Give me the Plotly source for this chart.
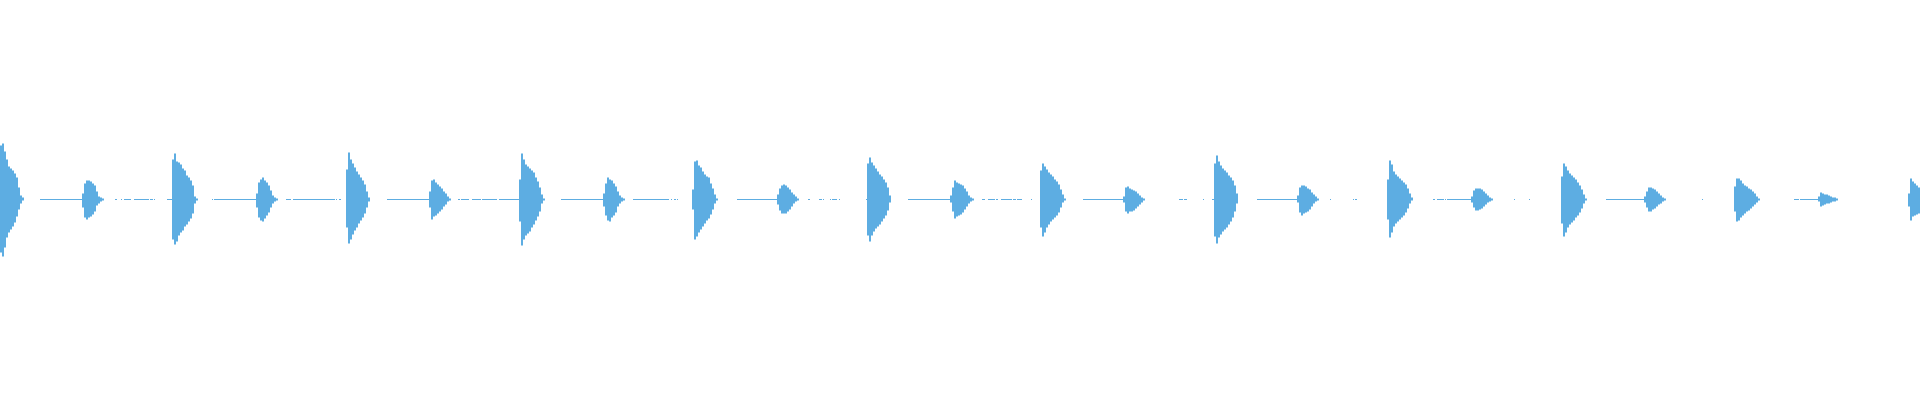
import plotly.graph_objects as go

# Waveform peak data (x = peak bin index, amplitude in peak units; full scale ±200)
hit_starts = [0, 82, 172, 256, 346, 429, 519, 603, 692, 777, 867, 950,
              1040, 1123, 1214, 1297, 1387, 1471, 1561, 1644, 1734, 1818, 1908]

hit_top = [
    [54, 56, 48, 40, 33, 31, 29, 26, 22, 12, 4, 2],
    [6, 16, 19, 19, 18, 16, 14, 8, 3, 2, 1],
    [40, 46, 38, 37, 35, 31, 29, 24, 22, 19, 14, 3, 1],
    [6, 17, 20, 22, 19, 17, 14, 9, 4, 2, 1],
    [30, 47, 40, 36, 32, 28, 25, 22, 19, 15, 8, 2],
    [8, 19, 20, 17, 15, 13, 11, 8, 6, 3, 1],
    [20, 46, 40, 35, 33, 31, 29, 27, 22, 18, 12, 5, 1],
    [6, 16, 22, 20, 19, 16, 13, 8, 4, 2, 1],
    [10, 38, 39, 34, 32, 28, 25, 23, 22, 16, 11, 5, 1],
    [5, 11, 14, 15, 14, 12, 10, 7, 5, 3, 1],
    [36, 42, 37, 34, 31, 28, 25, 23, 20, 17, 12, 4],
    [4, 12, 19, 17, 16, 15, 14, 11, 8, 4, 2, 1],
    [29, 36, 33, 30, 27, 25, 23, 20, 18, 15, 10, 5, 1],
    [3, 12, 13, 11, 10, 9, 8, 6, 4, 2, 1],
    [36, 44, 38, 34, 31, 29, 27, 24, 22, 19, 14, 6],
    [4, 12, 14, 14, 13, 11, 10, 7, 5, 3, 1],
    [20, 39, 35, 28, 25, 23, 21, 19, 17, 15, 11, 6, 2],
    [3, 9, 11, 11, 11, 10, 8, 6, 4, 2, 1],
    [23, 36, 33, 29, 26, 24, 22, 20, 17, 14, 10, 5, 1],
    [3, 8, 12, 12, 11, 10, 8, 6, 4, 2, 1],
    [13, 21, 21, 19, 16, 14, 13, 11, 10, 8, 6, 3, 1],
    [3, 7, 6, 5, 5, 4, 3, 2, 2, 1],
    [6, 21, 18, 16, 14, 12],
]

hit_bottom = [
    [53, 57, 48, 38, 33, 30, 27, 23, 17, 10, 4, 1],
    [8, 18, 20, 18, 17, 15, 12, 6, 4, 2, 1],
    [40, 45, 42, 36, 33, 31, 27, 25, 22, 19, 14, 4, 1],
    [8, 18, 21, 22, 19, 16, 13, 8, 4, 2, 1],
    [28, 44, 40, 35, 31, 28, 24, 21, 18, 14, 8, 2],
    [8, 20, 17, 16, 14, 12, 10, 7, 5, 2, 1],
    [22, 46, 40, 36, 34, 32, 28, 25, 21, 17, 12, 4, 1],
    [7, 16, 21, 22, 18, 16, 13, 7, 4, 2, 1],
    [10, 40, 37, 33, 30, 27, 24, 21, 19, 15, 10, 4, 1],
    [5, 11, 14, 14, 14, 12, 10, 7, 4, 2, 1],
    [36, 42, 36, 32, 29, 27, 25, 22, 19, 16, 11, 3],
    [3, 12, 19, 17, 16, 15, 13, 10, 7, 4, 2, 1],
    [28, 37, 33, 28, 25, 22, 20, 18, 16, 13, 8, 3, 1],
    [3, 12, 14, 12, 12, 11, 9, 7, 5, 3, 1],
    [37, 44, 38, 35, 32, 30, 28, 25, 22, 18, 12, 4],
    [3, 13, 16, 14, 13, 12, 10, 7, 4, 2, 1],
    [20, 38, 33, 27, 24, 22, 20, 18, 16, 13, 9, 4, 1],
    [3, 8, 11, 11, 10, 9, 7, 5, 3, 2, 1],
    [24, 37, 33, 28, 25, 23, 21, 18, 16, 13, 9, 4, 1],
    [3, 8, 12, 12, 10, 9, 7, 5, 4, 2, 1],
    [12, 22, 21, 18, 16, 14, 12, 11, 9, 7, 5, 3, 1],
    [2, 7, 6, 5, 4, 4, 3, 2, 2, 1],
    [7, 21, 17, 16, 15, 14],
]

# low-level noise floor segments [start_bin, end_bin]
quiet_segments = [
    [40, 82], [115, 117], [121, 122], [124, 131], [134, 149], [150, 153], [154, 155],
    [167, 172], [212, 213], [214, 256], [286, 291], [293, 335], [336, 337], [339, 341],
    [387, 429], [458, 460], [461, 469], [472, 481], [482, 497], [499, 519], [561, 603],
    [633, 669], [671, 672], [674, 676], [677, 678], [737, 777], [808, 810], [819, 822],
    [823, 824], [830, 831], [832, 837], [839, 840], [866, 867], [908, 950], [982, 985],
    [988, 995], [996, 998], [1001, 1012], [1013, 1016], [1017, 1022], [1031, 1032],
    [1083, 1123], [1179, 1183], [1184, 1187], [1203, 1204], [1212, 1214], [1257, 1297],
    [1330, 1331], [1353, 1354], [1355, 1357], [1433, 1435], [1437, 1444], [1445, 1446],
    [1447, 1471], [1514, 1515], [1529, 1530], [1606, 1644], [1702, 1703], [1794, 1799],
    [1800, 1818],
]
noise_level = 0.5
bin_step = 2
total_bins = 1920
wave_color = "#5DADE2"

xs, bases, heights, widths = [], [], [], []
for start, tops, bots in zip(hit_starts, hit_top, hit_bottom):
    for j, (t, b) in enumerate(zip(tops, bots)):
        xs.append(start + bin_step * j + bin_step / 2)
        bases.append(-b)
        heights.append(t + b)
        widths.append(bin_step)
for s, e in quiet_segments:
    xs.append((s + e) / 2)
    bases.append(-noise_level)
    heights.append(2 * noise_level)
    widths.append(e - s)

fig = go.Figure(go.Bar(
    x=xs, y=heights, base=bases, width=widths,
    marker=dict(color=wave_color, line=dict(width=0)),
    hoverinfo="skip",
))
fig.update_layout(
    width=1920, height=400,
    margin=dict(l=0, r=0, t=0, b=0),
    paper_bgcolor="white", plot_bgcolor="white",
    showlegend=False,
    xaxis=dict(range=[0, total_bins], visible=False, fixedrange=True),
    yaxis=dict(range=[-200.5, 199.5], visible=False, fixedrange=True),
)
fig.write_html("out.html", config={"displayModeBar": False},
               post_script="document.body.style.margin='0';")
